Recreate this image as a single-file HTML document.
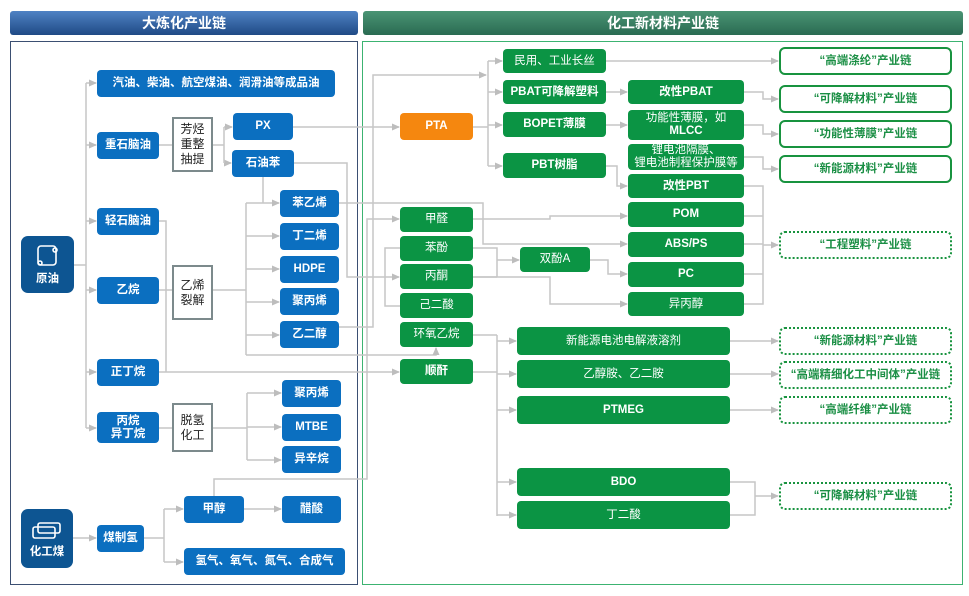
<!DOCTYPE html>
<html><head><meta charset="utf-8"><style>
body{margin:0;width:969px;height:596px;background:#fff;position:relative;overflow:hidden;font-family:"Liberation Sans","Noto Sans CJK SC",sans-serif;}
.b{position:absolute;display:flex;align-items:center;justify-content:center;text-align:center;color:#fff;font-size:11.5px;font-weight:bold;border-radius:4px;line-height:13px;box-sizing:border-box;}
.bl{background:#0b6fc0;}
.dk{background:#0d5592;border-radius:7px;flex-direction:column;}
.gr{background:#0b9444;}
.or{background:#f5870f;}
.wh{background:#fff;color:#222;border:2px solid #7c8a8c;border-radius:0;font-weight:normal;font-size:12px;line-height:15px;}
.rs{background:#fff;color:#1b8f45;border:2px solid #18933f;border-radius:6px;}
.rd{background:#fff;color:#1b8f45;border:2px dotted #18933f;border-radius:6px;}
.hd{position:absolute;top:11px;height:24px;color:#fff;font-size:14px;font-weight:bold;display:flex;align-items:center;justify-content:center;border-radius:3px;}
svg{position:absolute;left:0;top:0;}
</style></head><body>
<div class="hd" style="left:10px;width:348px;background:linear-gradient(#4f82c4,#1f4a85);">大炼化产业链</div>
<div class="hd" style="left:363px;width:600px;background:linear-gradient(#4a9474,#2a6b52);">化工新材料产业链</div>
<div style="position:absolute;left:10px;top:41px;width:346px;height:542px;border:1.5px solid #3b4f72;"></div>
<div style="position:absolute;left:362px;top:41px;width:599px;height:542px;border:1.5px solid #3cb371;"></div>

<svg width="969" height="596">
<defs><marker id="a" markerWidth="8" markerHeight="8" refX="7" refY="4" orient="auto" markerUnits="userSpaceOnUse"><path d="M0,0.5 L8,4 L0,7.5z" fill="#bdbdbd"/></marker></defs>
<g fill="none" stroke="#c6c6c6" stroke-width="1.5">
<path d="M74 265H86M86 83V428"/>
<g marker-end="url(#a)">
<path d="M86 83H96"/><path d="M86 145H96"/><path d="M86 221H96"/><path d="M86 290H96"/><path d="M86 372H96"/><path d="M86 428H96"/>
<path d="M224 127H232"/><path d="M224 163H231"/>
<path d="M293 127H399"/>
<path d="M294 163H347V277H399"/>
<path d="M246 203H279"/><path d="M246 236H279"/><path d="M246 269H279"/><path d="M246 302H279"/><path d="M246 335H279"/>
<path d="M246 355H436V348"/>
<path d="M159 372H399"/>
<path d="M339 203H483V244H627"/>
<path d="M339 327H373V75H486"/>
<path d="M488 61H502"/><path d="M488 92H502"/><path d="M488 125H502"/><path d="M488 166H502"/>
<path d="M606 92H627"/><path d="M606 125H627"/>
<path d="M606 166H617V186H627"/>
<path d="M214 496V479H367V219H399"/>
<path d="M473 219H550V216H627"/>
<path d="M497 260H519"/>
<path d="M473 277H550V304H627"/>
<path d="M590 260H608V274H627"/>
<path d="M606 61H778"/>
<path d="M744 92H763V99H778"/><path d="M744 125H763V134H778"/><path d="M744 157H763V169H778"/>
<path d="M763 245H778"/>
<path d="M497 341H516"/><path d="M497 374H516"/><path d="M497 410H516"/><path d="M497 482H516"/><path d="M497 515H516"/>
<path d="M730 341H778"/><path d="M730 374H778"/><path d="M730 410H778"/>
<path d="M755 496H778"/>
<path d="M247 393H281"/><path d="M247 427H281"/><path d="M247 460H281"/>
<path d="M73 538H96"/>
<path d="M164 509H183"/><path d="M164 562H183"/><path d="M244 509H281"/>
</g>
<path d="M159 145H172M213 145H224M224 127V163"/>
<path d="M263 177V203"/>
<path d="M159 221H166V372M159 290H172M213 290H246M246 203V355"/>
<path d="M473 127H488M488 61V166"/>
<path d="M400 248H385V306H400"/>
<path d="M473 248H497V277M473 277H497"/>
<path d="M744 186H763V304H744M744 216H763M744 244H763M744 274H763"/>
<path d="M473 335H497M473 372H497M497 335V516"/>
<path d="M730 482H755V515H730"/>
<path d="M159 428H172M213 428H247M247 393V460"/>
<path d="M144 538H164M164 509V562"/>
</g>
</svg>

<div class="b bl" style="left:97px;top:70px;width:238px;height:27px">汽油、柴油、航空煤油、润滑油等成品油</div>
<div class="b bl" style="left:97px;top:132px;width:62px;height:27px">重石脑油</div>
<div class="b wh" style="left:172px;top:117px;width:41px;height:55px">芳烃<br>重整<br>抽提</div>
<div class="b bl" style="left:233px;top:113px;width:60px;height:27px">PX</div>
<div class="b bl" style="left:232px;top:150px;width:62px;height:27px">石油苯</div>
<div class="b bl" style="left:97px;top:208px;width:62px;height:27px">轻石脑油</div>
<div class="b dk" style="left:21px;top:236px;width:53px;height:57px"><span style="margin-top:30px">原油</span></div>
<div class="b bl" style="left:97px;top:277px;width:62px;height:27px">乙烷</div>
<div class="b wh" style="left:172px;top:265px;width:41px;height:55px">乙烯<br>裂解</div>
<div class="b bl" style="left:280px;top:190px;width:59px;height:27px">苯乙烯</div>
<div class="b bl" style="left:280px;top:223px;width:59px;height:27px">丁二烯</div>
<div class="b bl" style="left:280px;top:256px;width:59px;height:27px">HDPE</div>
<div class="b bl" style="left:280px;top:288px;width:59px;height:27px">聚丙烯</div>
<div class="b bl" style="left:280px;top:321px;width:59px;height:27px">乙二醇</div>
<div class="b bl" style="left:97px;top:359px;width:62px;height:27px">正丁烷</div>
<div class="b bl" style="left:97px;top:412px;width:62px;height:31px">丙烷<br>异丁烷</div>
<div class="b wh" style="left:172px;top:403px;width:41px;height:49px">脱氢<br>化工</div>
<div class="b bl" style="left:282px;top:380px;width:59px;height:27px">聚丙烯</div>
<div class="b bl" style="left:282px;top:414px;width:59px;height:27px">MTBE</div>
<div class="b bl" style="left:282px;top:446px;width:59px;height:27px">异辛烷</div>
<div class="b bl" style="left:184px;top:496px;width:60px;height:27px">甲醇</div>
<div class="b bl" style="left:282px;top:496px;width:59px;height:27px">醋酸</div>
<div class="b dk" style="left:21px;top:509px;width:52px;height:59px"><span style="margin-top:28px">化工煤</span></div>
<div class="b bl" style="left:97px;top:525px;width:47px;height:27px">煤制氢</div>
<div class="b bl" style="left:184px;top:548px;width:161px;height:27px">氢气、氧气、氮气、合成气</div>

<div class="b or" style="left:400px;top:113px;width:73px;height:27px">PTA</div>
<div class="b gr" style="left:503px;top:49px;width:103px;height:24px;font-weight:normal">民用、工业长丝</div>
<div class="b gr" style="left:503px;top:80px;width:103px;height:24px">PBAT可降解塑料</div>
<div class="b gr" style="left:503px;top:112px;width:103px;height:25px">BOPET薄膜</div>
<div class="b gr" style="left:503px;top:153px;width:103px;height:25px">PBT树脂</div>
<div class="b gr" style="left:628px;top:80px;width:116px;height:24px">改性PBAT</div>
<div class="b gr" style="left:628px;top:110px;width:116px;height:30px;font-weight:normal"><span>功能性薄膜，如<br><b>MLCC</b></span></div>
<div class="b gr" style="left:628px;top:144px;width:116px;height:26px;font-weight:normal"><span>锂电池隔膜、<br>锂电池制程保护膜等</span></div>
<div class="b gr" style="left:628px;top:174px;width:116px;height:24px">改性PBT</div>
<div class="b gr" style="left:628px;top:202px;width:116px;height:25px">POM</div>
<div class="b gr" style="left:628px;top:232px;width:116px;height:25px">ABS/PS</div>
<div class="b gr" style="left:628px;top:262px;width:116px;height:25px">PC</div>
<div class="b gr" style="left:628px;top:292px;width:116px;height:24px;font-weight:normal">异丙醇</div>
<div class="b gr" style="left:400px;top:207px;width:73px;height:25px;font-weight:normal">甲醛</div>
<div class="b gr" style="left:400px;top:236px;width:73px;height:25px;font-weight:normal">苯酚</div>
<div class="b gr" style="left:400px;top:264px;width:73px;height:25px;font-weight:normal">丙酮</div>
<div class="b gr" style="left:400px;top:293px;width:73px;height:25px;font-weight:normal">己二酸</div>
<div class="b gr" style="left:400px;top:322px;width:73px;height:25px;font-weight:normal">环氧乙烷</div>
<div class="b gr" style="left:520px;top:247px;width:70px;height:25px;font-weight:normal">双酚A</div>
<div class="b gr" style="left:400px;top:359px;width:73px;height:25px">顺酐</div>
<div class="b gr" style="left:517px;top:327px;width:213px;height:28px;font-weight:normal">新能源电池电解液溶剂</div>
<div class="b gr" style="left:517px;top:360px;width:213px;height:28px;font-weight:normal">乙醇胺、乙二胺</div>
<div class="b gr" style="left:517px;top:396px;width:213px;height:28px">PTMEG</div>
<div class="b gr" style="left:517px;top:468px;width:213px;height:28px">BDO</div>
<div class="b gr" style="left:517px;top:501px;width:213px;height:28px;font-weight:normal">丁二酸</div>

<div class="b rs" style="left:779px;top:47px;width:173px;height:28px">“高端涤纶”产业链</div>
<div class="b rs" style="left:779px;top:85px;width:173px;height:28px">“可降解材料”产业链</div>
<div class="b rs" style="left:779px;top:120px;width:173px;height:28px">“功能性薄膜”产业链</div>
<div class="b rs" style="left:779px;top:155px;width:173px;height:28px">“新能源材料”产业链</div>
<div class="b rd" style="left:779px;top:231px;width:173px;height:28px">“工程塑料”产业链</div>
<div class="b rd" style="left:779px;top:327px;width:173px;height:28px">“新能源材料”产业链</div>
<div class="b rd" style="left:779px;top:361px;width:173px;height:28px">“高端精细化工中间体”产业链</div>
<div class="b rd" style="left:779px;top:396px;width:173px;height:28px">“高端纤维”产业链</div>
<div class="b rd" style="left:779px;top:482px;width:173px;height:28px">“可降解材料”产业链</div>

<svg width="969" height="596"><g fill="none" stroke="#fff" stroke-width="1.6">
<rect x="38" y="246" width="18" height="19" rx="3"/><circle cx="55" cy="250" r="2"/><circle cx="40" cy="263" r="2"/>
<rect x="33" y="527" width="22" height="11" rx="2"/><rect x="38" y="523" width="22" height="10" rx="2"/>
</g></svg>
</body></html>
